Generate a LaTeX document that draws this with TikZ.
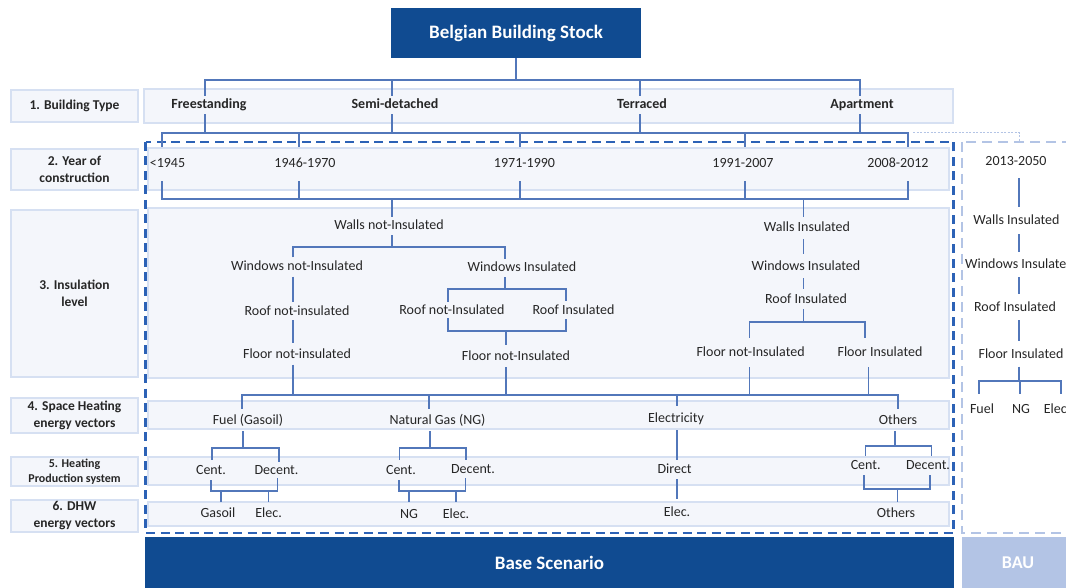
\documentclass[tikz,border=0pt]{standalone}
\usepackage{fontspec}
\setmainfont{Carlito}
\definecolor{dkblue}{RGB}{16,75,145}
\definecolor{lnc}{RGB}{82,119,186}
\definecolor{frmc}{RGB}{44,98,182}
\definecolor{bandf}{RGB}{244,246,251}
\definecolor{bandb}{RGB}{214,224,242}
\definecolor{baulc}{RGB}{179,196,229}
\definecolor{txt}{RGB}{38,38,38}
\newcommand\treefont{\fontsize{14}{16}\selectfont}
\newcommand\labfont{\fontsize{13.5}{17}\selectfont\bfseries}
\newcommand\labfontsm{\fontsize{12}{15}\selectfont\bfseries}
\newcommand\btfont{\fontsize{14}{16}\selectfont\bfseries}
\newcommand\bigfont{\fontsize{19}{22}\selectfont\bfseries}
\begin{document}
\begin{tikzpicture}[x=1pt,y=-1pt,
  conn/.style={draw=lnc, line width=1.1pt},
  dotc/.style={draw=baulc, line width=1pt, dash pattern=on 2pt off 1.5pt},
  band/.style={fill=bandf, draw=bandb, line width=1.6pt},
  lab/.style={fill=bandf, draw=bandb, line width=2.4pt, minimum width=127pt, align=center, font=\labfont, text=txt, inner sep=1pt},
  frm/.style={draw=frmc, line width=2.3pt, dash pattern=on 9pt off 5.5pt},
  baufrm/.style={draw=baulc, line width=2pt, dash pattern=on 10pt off 6pt},
  tt/.style={font=\treefont, text=txt, inner xsep=1pt, text height=11pt, text depth=3pt},
  bt/.style={tt, font=\btfont},
  big/.style={font=\bigfont, text=white, inner sep=0pt}
]
\useasboundingbox (0,0) rectangle (1066,588);
\clip (0,0) rectangle (1066,588);

% ---------- row bands ----------
\draw[band] (144,89) rectangle (953,123);
\draw[band] (148,148) rectangle (949,190);
\draw[band] (148,208) rectangle (949,378);
\draw[band] (148,401) rectangle (949,429);
\draw[band] (148,457) rectangle (949,485);
\draw[band] (148,502) rectangle (949,526);

% ---------- level labels ----------
\node[lab, minimum height=32pt] (L1) at (74.5,106) {1. Building Type};
\node[lab, minimum height=40.6pt] (L2) at (74.5,169.5) {2. Year of\\construction};
\node[lab, minimum height=166.6pt] (L3) at (74.5,293.5) {3. Insulation\\level};
\node[lab, minimum height=34.6pt] (L4) at (74.5,415.5) {4. Space Heating\\energy vectors};
\node[lab, minimum height=28.6pt, font=\labfontsm] (L5) at (74.5,471.5) {5. Heating\\Production system};
\node[lab, minimum height=31.6pt] (L6) at (74.5,516) {6. DHW\\energy vectors};

% ---------- frames ----------
\draw[frm] (145.5,142) rectangle (953.5,533);
\draw[baufrm] (962,142) rectangle (1090,533);
\coordinate (bauTop) at (1019,142);

% ---------- big boxes ----------
\node[fill=dkblue, minimum width=249.5pt, minimum height=50pt, big] (T) at (516,33) {Belgian Building Stock};
\node[fill=dkblue, minimum width=809pt, minimum height=51pt, big] (BS) at (549.5,562.5) {Base Scenario};
\fill[baulc] (961.5,537) rectangle (1080,588);
\node[big, font=\fontsize{18}{21}\selectfont\bfseries] (BAU) at (1018,563) {BAU};

% ---------- text nodes ----------
% building types
\node[bt, inner ysep=2pt] (bt1) at (209,105) {Freestanding};
\node[bt, inner ysep=2pt] (bt2) at (395,105) {Semi-detached};
\node[bt, inner ysep=2pt] (bt3) at (642,105) {Terraced};
\node[bt, inner ysep=2pt] (bt4) at (862,105) {Apartment};
% years
\node[tt, inner ysep=10pt] (y1) at (167.5,164) {<1945};
\node[tt, inner ysep=10pt] (y2) at (305,164) {1946-1970};
\node[tt, inner ysep=10pt] (y3) at (524.5,164) {1971-1990};
\node[tt, inner ysep=10pt] (y4) at (743,164) {1991-2007};
\node[tt, inner ysep=10pt] (y5) at (898,164) {2008-2012};
% insulation, left
\node[tt, inner ysep=2pt] (wn) at (389,226) {Walls not-Insulated};
\node[tt, inner ysep=2.5pt] (wnn) at (297,267) {Windows not-Insulated};
\node[tt, inner ysep=2pt] (wni) at (522,268) {Windows Insulated};
\node[tt, inner ysep=2pt] (rnn) at (297,311) {Roof not-insulated};
\node[tt, inner ysep=3.5pt] (fnn) at (297,354) {Floor not-insulated};
\node[tt, inner ysep=1pt] (rni) at (452,310) {Roof not-Insulated};
\node[tt, inner ysep=2pt] (ri) at (573.5,310) {Roof Insulated};
\node[tt, inner ysep=4pt] (fni) at (516,356) {Floor not-Insulated};
% insulation, right
\node[tt, inner ysep=4pt] (wi) at (807,228) {Walls Insulated};
\node[tt, inner ysep=5pt] (wii) at (806,266) {Windows Insulated};
\node[tt, inner ysep=3pt] (rii) at (806,299) {Roof Insulated};
\node[tt, inner ysep=7.5pt] (fr1) at (750.6,352.5) {Floor not-Insulated};
\node[tt, inner ysep=7.5pt] (fr2) at (880,352.5) {Floor Insulated};
% space heating vectors
\node[tt, inner ysep=4pt] (fuel) at (248,420) {Fuel (Gasoil)};
\node[tt, inner ysep=4pt] (ng) at (437.5,420) {Natural Gas (NG)};
\node[tt, inner ysep=5pt] (el) at (676,418) {Electricity};
\node[tt, inner ysep=4pt] (ot) at (898,420) {Others};
% production systems
\node[tt, inner ysep=3pt] (fc) at (211,470) {Cent.};
\node[tt, inner ysep=1pt] (fd) at (276.5,470) {Decent.};
\node[tt, inner ysep=3pt] (nc) at (401,470) {Cent.};
\node[tt, inner ysep=2pt] (nd) at (473,469) {Decent.};
\node[tt, inner ysep=2.5pt] (ed) at (674.6,469.5) {Direct};
\node[tt, inner ysep=2.5pt] (oc) at (865.7,465.5) {Cent.};
\node[tt, inner ysep=2.5pt] (od) at (928,465.5) {Decent.};
% DHW vectors
\node[tt, inner ysep=4pt] (fg) at (218,513) {Gasoil};
\node[tt, inner ysep=4pt] (fe) at (268.6,513) {Elec.};
\node[tt, inner ysep=5pt] (nn) at (409,514) {NG};
\node[tt, inner ysep=5pt] (ne) at (456,514) {Elec.};
\node[tt, inner ysep=6pt] (ee) at (677,512) {Elec.};
\node[tt, inner ysep=4pt] (oo) at (896,513) {Others};
% BAU column
\node[tt, inner ysep=9pt] (b0) at (1016,162) {2013-2050};
\node[tt, inner ysep=6.5pt] (b1) at (1016.5,220.5) {Walls Insulated};
\node[tt, inner ysep=5.5pt] (b2) at (1019.5,264.5) {Windows Insulated};
\node[tt, inner ysep=6pt] (b3) at (1015,307) {Roof Insulated};
\node[tt, inner ysep=5.5pt] (b4) at (1021,354) {Floor Insulated};
\node[tt, inner ysep=8pt] (bf) at (982,409) {Fuel};
\node[tt, inner ysep=8pt] (bn) at (1021,409) {NG};
\node[tt, inner ysep=8pt] (be) at (1057,409) {Elec.};

% ---------- connectors ----------
% stock -> building types
\draw[conn] (T.south) -- (T.south |- 0,80);
\draw[conn] ([xshift=-4pt]bt1.north) |- ([xshift=-2pt]bt4.north |- 0,80) -- ([xshift=-2pt]bt4.north);
\draw[conn] ([xshift=-3pt]bt2.north) -- ([xshift=-3pt]bt2.north |- 0,80);
\draw[conn] ([xshift=-2pt]bt3.north) -- ([xshift=-2pt]bt3.north |- 0,80);
% building types -> years
\draw[conn] ([xshift=-4pt]bt1.south) -- ([xshift=-4pt]bt1.south |- 0,133);
\draw[conn] ([xshift=-3pt]bt2.south) -- ([xshift=-3pt]bt2.south |- 0,133);
\draw[conn] ([xshift=-2pt]bt3.south) -- ([xshift=-2pt]bt3.south |- 0,133);
\draw[conn] ([xshift=-2pt]bt4.south) -- ([xshift=-2pt]bt4.south |- 0,133);
\draw[conn] ([xshift=-5.5pt]y1.north) |- ([xshift=10pt]y5.north |- 0,133) -- ([xshift=10pt]y5.north);
\draw[conn] ([xshift=-6pt]y2.north) -- ([xshift=-6pt]y2.north |- 0,133);
\draw[conn] ([xshift=-4.5pt]y3.north) -- ([xshift=-4.5pt]y3.north |- 0,133);
\draw[conn] ([xshift=2pt]y4.north) -- ([xshift=2pt]y4.north |- 0,133);
\draw[dotc] ([xshift=15pt]y5.north |- 0,133) -| (bauTop);
% years -> walls
\draw[conn] ([xshift=-5.5pt]y1.south) |- ([xshift=10pt]y5.south |- 0,199) -- ([xshift=10pt]y5.south);
\draw[conn] ([xshift=-6pt]y2.south) -- ([xshift=-6pt]y2.south |- 0,199);
\draw[conn] ([xshift=-4.5pt]y3.south) -- ([xshift=-4.5pt]y3.south |- 0,199);
\draw[conn] ([xshift=2pt]y4.south) -- ([xshift=2pt]y4.south |- 0,199);
\draw[conn] ([xshift=3pt]wn.north) -- ([xshift=3pt]wn.north |- 0,199);
\draw[conn] ([xshift=-3.5pt]wi.north) -- ([xshift=-3.5pt]wi.north |- 0,199);
% left insulation tree
\draw[conn] ([xshift=3pt]wn.south) -- ([xshift=3pt]wn.south |- 0,247);
\draw[conn] ([xshift=-4pt]wnn.north) |- ([xshift=-17pt]wni.north |- 0,247) -- ([xshift=-17pt]wni.north);
\draw[conn] ([xshift=-4pt]wnn.south) -- ([xshift=-4pt]rnn.north);
\draw[conn] ([xshift=-4pt]rnn.south) -- ([xshift=-4pt]fnn.north);
\draw[conn] ([xshift=-17pt]wni.south) -- ([xshift=-17pt]wni.south |- 0,289);
\draw[conn] ([xshift=-4pt]rni.north) |- ([xshift=-7.5pt]ri.north |- 0,289) -- ([xshift=-7.5pt]ri.north);
\draw[conn] ([xshift=-4pt]rni.south) |- ([xshift=-7.5pt]ri.south |- 0,331) -- ([xshift=-7.5pt]ri.south);
\draw[conn] ([xshift=-10pt]fni.north) -- ([xshift=-10pt]fni.north |- 0,331);
% right insulation tree
\draw[conn] ([xshift=-3.5pt]wi.south) -- ([xshift=-2.5pt]wii.north);
\draw[conn] ([xshift=-2.5pt]wii.south) -- ([xshift=-2.5pt]rii.north);
\draw[conn] ([xshift=-2.5pt]rii.south) -- ([xshift=-2.5pt]rii.south |- 0,322);
\draw[conn] ([xshift=-1.5pt]fr1.north) |- ([xshift=-15pt]fr2.north |- 0,322) -- ([xshift=-15pt]fr2.north);
% insulation -> space heating vectors
\draw[conn] ([xshift=-4pt]fnn.south) -- ([xshift=-4pt]fnn.south |- 0,395);
\draw[conn] ([xshift=-10pt]fni.south) -- ([xshift=-10pt]fni.south |- 0,395);
\draw[conn] ([xshift=-1.5pt]fr1.south) -- ([xshift=-1.5pt]fr1.south |- 0,395);
\draw[conn] ([xshift=-11.5pt]fr2.south) -- ([xshift=-11.5pt]fr2.south |- 0,395);
\draw[conn] ([xshift=-6pt]fuel.north) |- (ot.north |- 0,395) -- (ot.north);
\draw[conn] ([xshift=-8.5pt]ng.north) -- ([xshift=-8.5pt]ng.north |- 0,395);
\draw[conn] ([xshift=1pt]el.north) -- ([xshift=1pt]el.north |- 0,395);
% fuel
\draw[conn] ([xshift=-5pt]fuel.south) -- ([xshift=-5pt]fuel.south |- 0,448);
\draw[conn] ([xshift=1pt]fc.north) |- ([xshift=2.5pt]fd.north |- 0,448) -- ([xshift=2.5pt]fd.north);
\draw[conn] (fc.south) |- ([xshift=1pt]fd.south |- 0,491) -- ([xshift=1pt]fd.south);
\draw[conn] ([xshift=3pt]fg.north) -- ([xshift=3pt]fg.north |- 0,491);
\draw[conn] (fe.north) -- (fe.north |- 0,491);
% natural gas
\draw[conn] ([xshift=-7.5pt]ng.south) -- ([xshift=-7.5pt]ng.south |- 0,448);
\draw[conn] ([xshift=-1.5pt]nc.north) |- ([xshift=-7pt]nd.north |- 0,448) -- ([xshift=-7pt]nd.north);
\draw[conn] ([xshift=-2pt]nc.south) |- ([xshift=-7.5pt]nd.south |- 0,491) -- ([xshift=-7.5pt]nd.south);
\draw[conn] (nn.north) -- (nn.north |- 0,491);
\draw[conn] (ne.north) -- (ne.north |- 0,491);
% electricity
\draw[conn] ([xshift=1pt]el.south) -- ([xshift=2.4pt]ed.north);
\draw[conn] ([xshift=2.4pt]ed.south) -- (ee.north);
% others
\draw[conn] ([xshift=-3pt]ot.south) -- ([xshift=-3pt]ot.south |- 0,446);
\draw[conn] (oc.north) |- ([xshift=3.7pt]od.north |- 0,446) -- ([xshift=3.7pt]od.north);
\draw[conn] ([xshift=-1.7pt]oc.south) |- ([xshift=2pt]od.south |- 0,489) -- ([xshift=2pt]od.south);
\draw[conn] ([xshift=1.5pt]oo.north) -- ([xshift=1.5pt]oo.north |- 0,489);
% BAU column
\draw[conn] ([xshift=3pt]b0.south) -- ([xshift=2.5pt]b1.north);
\draw[conn] ([xshift=2.5pt]b1.south) -- ([xshift=-0.5pt]b2.north);
\draw[conn] ([xshift=-0.5pt]b2.south) -- ([xshift=4pt]b3.north);
\draw[conn] ([xshift=4pt]b3.south) -- ([xshift=-2pt]b4.north);
\draw[conn] ([xshift=-2pt]b4.south) -- ([xshift=-2pt]b4.south |- 0,381);
\draw[conn] ([xshift=-3pt]bf.north) |- ([xshift=4pt]be.north |- 0,381) -- ([xshift=4pt]be.north);
\draw[conn] ([xshift=-1pt]bn.north) -- ([xshift=-1pt]bn.north |- 0,381);
\end{tikzpicture}
\end{document}
